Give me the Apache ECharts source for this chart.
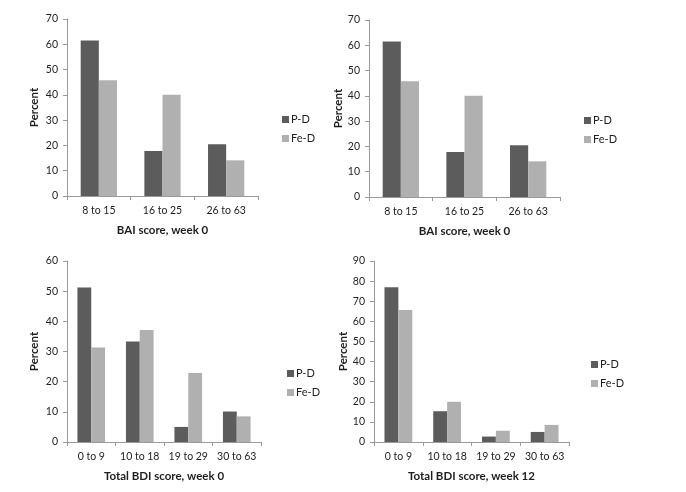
<!DOCTYPE html>
<html>
<head>
<meta charset="utf-8">
<script src="https://cdn.jsdelivr.net/npm/echarts@6/dist/echarts.min.js"></script>
<style>
html,body{margin:0;padding:0;background:#fff;}
#c{width:686px;height:492px;}
</style>
</head>
<body>
<div id="c"></div>
<script>
var baiCats = ['8 to 15', '16 to 25', '26 to 63'];
var baiPD = [61.5, 17.8, 20.5];
var baiFeD = [45.8, 40.0, 14.1];

var bdiCats = ['0 to 9', '10 to 18', '19 to 29', '30 to 63'];
var bdi0PD = [51.2, 33.3, 5.0, 10.1];
var bdi0FeD = [31.3, 37.1, 22.9, 8.5];
var bdi12PD = [76.9, 15.3, 2.7, 5.0];
var bdi12FeD = [65.6, 20.0, 5.6, 8.5];

var yMax = [70, 70, 60, 90];
var xTitles = ['BAI score, week 0', 'BAI score, week 0', 'Total BDI score, week 0', 'Total BDI score, week 12'];
var yTitle = 'Percent';
var seriesNames = ['P-D', 'Fe-D'];

var FONT = 'Lato, "Open Sans", sans-serif';
var TXT = '#1e1e1e';
var AXC = '#9a9a9a';
var C_PD = '#5c5c5c';
var C_FED = '#b0b0b0';

var grids = [
  {left: 67, top: 19, width: 191, height: 177},
  {left: 369, top: 20, width: 191, height: 177},
  {left: 67, top: 261, width: 194, height: 181},
  {left: 374, top: 261, width: 195, height: 181}
];
var yNameGaps = [27, 25, 27, 23];
var legendPos = [
  {left: 277, top: 109},
  {left: 579, top: 110},
  {left: 282, top: 363},
  {left: 586, top: 354}
];
var catsList = [baiCats, baiCats, bdiCats, bdiCats];
var pdList = [baiPD, baiPD, bdi0PD, bdi12PD];
var fedList = [baiFeD, baiFeD, bdi0FeD, bdi12FeD];

var xAxes = [], yAxes = [], series = [], legends = [];
for (var i = 0; i < 4; i++) {
  xAxes.push({
    type: 'category', gridIndex: i, data: catsList[i],
    name: xTitles[i], nameLocation: 'middle', nameGap: 28,
    nameTextStyle: {fontFamily: FONT, fontWeight: 'bold', fontSize: 11.5, color: TXT},
    axisLine: {lineStyle: {color: AXC, width: 1}},
    axisTick: {show: true, length: 4, lineStyle: {color: AXC}},
    axisLabel: {fontFamily: FONT, fontSize: 10.5, color: TXT, margin: 9, interval: 0}
  });
  yAxes.push({
    type: 'value', gridIndex: i, min: 0, max: yMax[i], interval: 10,
    name: yTitle, nameLocation: 'middle', nameGap: yNameGaps[i], nameRotate: 90,
    nameTextStyle: {fontFamily: FONT, fontWeight: 'bold', fontSize: 11.5, color: TXT},
    axisLine: {show: true, lineStyle: {color: AXC, width: 1}},
    axisTick: {show: true, length: 4, lineStyle: {color: AXC}},
    axisLabel: {fontFamily: FONT, fontSize: 10.5, color: TXT, margin: 9},
    splitLine: {show: false}
  });
  series.push({
    name: seriesNames[0], type: 'bar', xAxisIndex: i, yAxisIndex: i,
    data: pdList[i], itemStyle: {color: C_PD},
    barGap: '0%', barCategoryGap: '43%', animation: false
  });
  series.push({
    name: seriesNames[1], type: 'bar', xAxisIndex: i, yAxisIndex: i,
    data: fedList[i], itemStyle: {color: C_FED},
    barGap: '0%', barCategoryGap: '43%', animation: false
  });
  legends.push({
    orient: 'vertical', left: legendPos[i].left, top: legendPos[i].top,
    itemWidth: 7, itemHeight: 7, itemGap: 8, icon: 'rect',
    data: seriesNames, selectedMode: false,
    textStyle: {fontFamily: FONT, fontSize: 11, color: TXT, padding: [0, 0, 0, -3]}
  });
}

var chart = echarts.init(document.getElementById('c'), null, {renderer: 'canvas'});
chart.setOption({
  backgroundColor: '#fff',
  animation: false,
  grid: grids,
  xAxis: xAxes,
  yAxis: yAxes,
  legend: legends,
  series: series
});
</script>
</body>
</html>
